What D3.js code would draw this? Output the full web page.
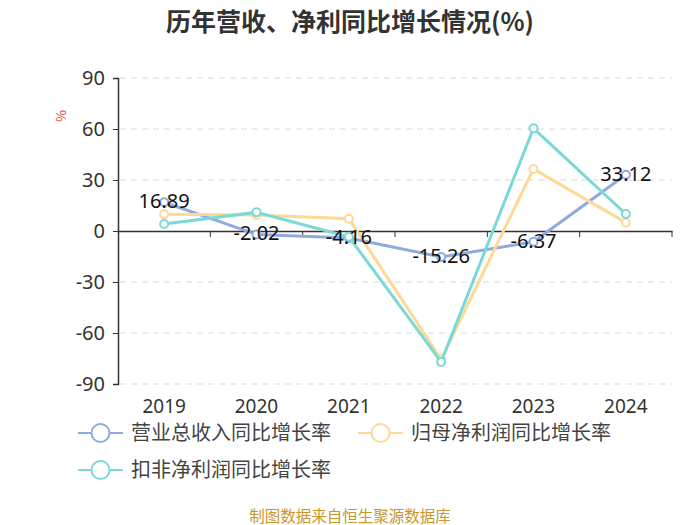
<!DOCTYPE html>
<html>
<head>
<meta charset="utf-8">
<title>历年营收、净利同比增长情况</title>
<style>
  body { margin: 0; background: #fff; }
  svg text { font-family: "Noto Sans CJK SC", "Noto Sans", sans-serif; }
  .grid line { stroke: #d9d9d9; stroke-dasharray: 6 5; }
</style>
</head>
<body>
<svg id="chart" width="700" height="525"></svg>
<script src="https://cdn.jsdelivr.net/npm/d3@7"></script>
<script>
var years = ['2019', '2020', '2021', '2022', '2023', '2024'];
var revenue = [16.89, -2.02, -4.16, -15.26, -6.37, 33.12];
var netProfit = [9.8, 9.4, 7.2, -75.5, 36.5, 4.9];
var deducted = [4.1, 11.0, -3.4, -77.0, 60.4, 10.0];
var yTicks = [-90, -60, -30, 0, 30, 60, 90];
var seriesNames = ['营业总收入同比增长率', '归母净利润同比增长率', '扣非净利润同比增长率'];
var colors = ['#8eaadf', '#fdd995', '#7ad8d6'];

var svg = d3.select('#chart');
var plotLeft = 118, plotRight = 672, plotTop = 78, plotBottom = 384;

var x = d3.scaleBand().domain(years).range([plotLeft, plotRight]);
var y = d3.scaleLinear().domain([-90, 90]).range([plotBottom, plotTop]);

// title
svg.append('text')
    .attr('x', 350).attr('y', 31)
    .attr('text-anchor', 'middle')
    .attr('font-size', 25).attr('font-weight', 'bold')
    .attr('fill', '#333')
    .text('历年营收、净利同比增长情况(%)');

// unit label
svg.append('text')
    .attr('transform', 'translate(66,116) rotate(-90)')
    .attr('text-anchor', 'middle')
    .attr('font-size', 13).attr('fill', '#f03030')
    .text('%');

// grid
svg.append('g').attr('class', 'grid')
    .selectAll('line')
    .data(yTicks.filter(function(d) { return d !== 0; }))
    .enter().append('line')
    .attr('x1', plotLeft + 2).attr('x2', plotRight)
    .attr('y1', function(d) { return y(d); })
    .attr('y2', function(d) { return y(d); });

// y axis
var yAxis = svg.append('g')
    .attr('transform', 'translate(' + plotLeft + ',0)')
    .call(d3.axisLeft(y).tickValues(yTicks).tickSize(5).tickPadding(8)
        .tickFormat(function(d) { return String(d); }));
yAxis.select('.domain').attr('stroke', '#333').attr('stroke-width', 1.5);
yAxis.selectAll('.tick line').attr('stroke', '#333');
yAxis.selectAll('.tick text')
    .attr('font-size', 20).attr('fill', '#333')
    .style('font-family', '"Noto Sans", sans-serif');

// x axis at zero
var xAxis = svg.append('g')
    .attr('transform', 'translate(0,' + y(0) + ')')
    .call(d3.axisBottom(x).tickSize(0).tickFormat(''));
xAxis.select('.domain').attr('stroke', '#333').attr('stroke-width', 1.5);
xAxis.selectAll('.tick').remove();
xAxis.selectAll('.bticks')
    .data(years)
    .enter().append('line')
    .attr('x1', function(d) { return x(d) + x.bandwidth(); })
    .attr('x2', function(d) { return x(d) + x.bandwidth(); })
    .attr('y1', 0).attr('y2', 6)
    .attr('stroke', '#333');

// x labels at bottom
svg.append('g').selectAll('text')
    .data(years)
    .enter().append('text')
    .attr('x', function(d) { return x(d) + x.bandwidth() / 2; })
    .attr('y', plotBottom + 29)
    .attr('text-anchor', 'middle')
    .attr('font-size', 19).attr('fill', '#333')
    .style('font-family', '"Noto Sans", sans-serif')
    .text(function(d) { return d; });

var line = d3.line()
    .x(function(d, i) { return x(years[i]) + x.bandwidth() / 2; })
    .y(function(d) { return y(d); });

var allSeries = [revenue, netProfit, deducted];
allSeries.forEach(function(s, k) {
    var g = svg.append('g');
    g.append('path')
        .datum(s)
        .attr('d', line)
        .attr('fill', 'none')
        .attr('stroke', colors[k])
        .attr('stroke-width', 3);
    g.selectAll('circle')
        .data(s)
        .enter().append('circle')
        .attr('cx', function(d, i) { return x(years[i]) + x.bandwidth() / 2; })
        .attr('cy', function(d) { return y(d); })
        .attr('r', 4)
        .attr('fill', '#fff')
        .attr('stroke', colors[k])
        .attr('stroke-width', 2);
});

// revenue value labels
svg.append('g').selectAll('text')
    .data(revenue)
    .enter().append('text')
    .attr('x', function(d, i) { return x(years[i]) + x.bandwidth() / 2; })
    .attr('y', function(d) { return y(d) + 6; })
    .attr('text-anchor', 'middle')
    .attr('font-size', 20).attr('fill', '#111')
    .style('font-family', '"Noto Sans", sans-serif')
    .text(function(d) { return d.toFixed(2); });

// legend
var legendPos = [[78, 433], [358, 433], [78, 470]];
seriesNames.forEach(function(name, k) {
    var g = svg.append('g').attr('transform', 'translate(' + legendPos[k][0] + ',' + legendPos[k][1] + ')');
    g.append('line')
        .attr('x1', 0).attr('x2', 45).attr('y1', 0).attr('y2', 0)
        .attr('stroke', colors[k]).attr('stroke-width', 2);
    g.append('circle')
        .attr('cx', 22.5).attr('cy', 0).attr('r', 9)
        .attr('fill', '#fff').attr('stroke', colors[k]).attr('stroke-width', 2);
    g.append('text')
        .attr('x', 53).attr('y', 7)
        .attr('font-size', 20).attr('fill', '#444')
        .text(name);
});

// source
svg.append('text')
    .attr('x', 350).attr('y', 522)
    .attr('text-anchor', 'middle')
    .attr('font-size', 15.5).attr('fill', '#c8962a')
    .text('制图数据来自恒生聚源数据库');
</script>
</body>
</html>
